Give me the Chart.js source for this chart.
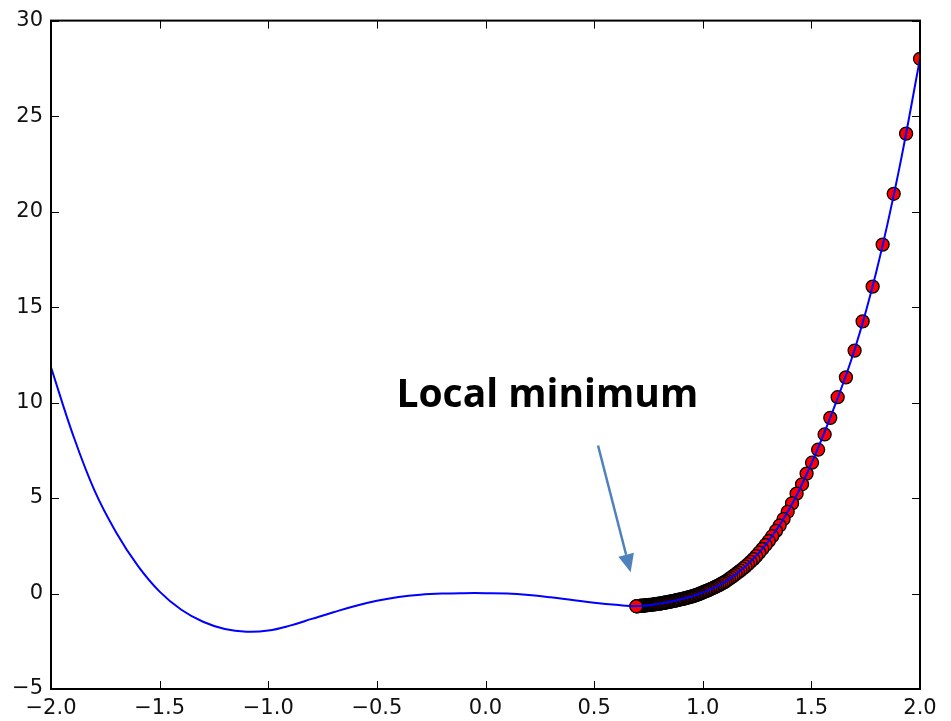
<!DOCTYPE html>
<html>
<head>
<meta charset="utf-8">
<script src="https://cdn.jsdelivr.net/npm/chart.js@4.4.1/dist/chart.umd.min.js"></script>
<style>
  html, body { margin: 0; padding: 0; background: #fff; }
  #wrap { width: 951px; height: 721px; position: relative; }
</style>
</head>
<body>
<div id="wrap"><canvas id="chart"></canvas></div>
<script>
// the function curve
var curveX = [-2.0, -1.9, -1.8, -1.7, -1.6, -1.5, -1.4, -1.3, -1.2, -1.1, -1.0, -0.9, -0.8, -0.7, -0.6, -0.5, -0.4, -0.3, -0.2, -0.1,
              0.0, 0.1, 0.2, 0.3, 0.4, 0.5, 0.6, 0.7, 0.8, 0.9, 1.0, 1.1, 1.2, 1.3, 1.4, 1.5, 1.6, 1.7, 1.8, 1.9, 2.0];
var curveY = [11.85, 8.35, 5.4, 3.2, 1.45, 0.1, -0.85, -1.48, -1.86, -2.0, -1.94, -1.68, -1.33, -0.98, -0.65, -0.38, -0.18, -0.06, 0.0, 0.02,
              0.02, 0.0, -0.08, -0.2, -0.34, -0.48, -0.59, -0.66, -0.53, -0.3, 0.05, 0.6, 1.45, 2.7, 4.45, 6.8, 9.6, 12.8, 16.9, 22.0, 28.0];

// gradient descent steps (red dots), starting at x = 2
var stepX = [2.0, 1.936, 1.879, 1.828, 1.782, 1.736, 1.699, 1.659, 1.621, 1.587, 1.561, 1.531, 1.503, 1.478, 1.457, 1.432,
             1.411, 1.391, 1.372, 1.354, 1.337, 1.320, 1.304, 1.289, 1.274, 1.260, 1.246, 1.233, 1.220, 1.208, 1.196, 1.184,
             1.173, 1.162, 1.151, 1.141, 1.131, 1.121, 1.111, 1.102, 1.093, 1.084, 1.075, 1.066, 1.058, 1.050, 1.042, 1.034,
             1.026, 1.018, 1.011, 1.003, 0.996, 0.989, 0.982, 0.975, 0.968, 0.961, 0.954, 0.948, 0.941, 0.935, 0.928, 0.922,
             0.915, 0.909, 0.903, 0.896, 0.890, 0.884, 0.878, 0.872, 0.866, 0.860, 0.854, 0.848, 0.842, 0.836, 0.830, 0.824,
             0.818, 0.812, 0.806, 0.800, 0.794, 0.788, 0.782, 0.776, 0.770, 0.764, 0.759, 0.753, 0.748, 0.743, 0.738, 0.733,
             0.728, 0.724, 0.720, 0.716, 0.712, 0.709, 0.706, 0.703, 0.700, 0.698, 0.696, 0.694];
var stepY = [28.0, 24.08, 20.93, 18.27, 16.07, 14.25, 12.72, 11.32, 10.28, 9.20, 8.33, 7.53, 6.85, 6.28, 5.72, 5.23,
             4.72, 4.28, 3.90, 3.56, 3.28, 3.00, 2.75, 2.54, 2.33, 2.14, 1.96, 1.80, 1.66, 1.53, 1.41, 1.30,
             1.20, 1.10, 1.01, 0.92, 0.84, 0.76, 0.68, 0.61, 0.55, 0.50, 0.44, 0.39, 0.35, 0.30, 0.26, 0.22,
             0.18, 0.14, 0.11, 0.07, 0.03, 0.00, -0.03, -0.06, -0.09, -0.11, -0.14, -0.16, -0.18, -0.20, -0.22, -0.24,
             -0.26, -0.28, -0.29, -0.31, -0.33, -0.34, -0.36, -0.37, -0.39, -0.40, -0.42, -0.43, -0.44, -0.46, -0.47, -0.48,
             -0.49, -0.51, -0.52, -0.53, -0.54, -0.55, -0.56, -0.57, -0.58, -0.59, -0.59, -0.60, -0.61, -0.61, -0.62, -0.63,
             -0.63, -0.64, -0.64, -0.65, -0.65, -0.65, -0.66, -0.66, -0.66, -0.66, -0.67, -0.67];

var xTicks = [-2.0, -1.5, -1.0, -0.5, 0.0, 0.5, 1.0, 1.5, 2.0];
var yTicks = [-5, 0, 5, 10, 15, 20, 25, 30];

var noteText = "Local minimum";
var notePos = [-0.41, 9.75];          // left / baseline of the text, data units
var arrowFrom = [0.518, 7.75];
var arrowTo = [0.668, 1.12];

function minus(s) { return String(s).replace("-", "\u2212"); }

var curveData = [];
for (var i = 0; i < curveX.length; i++) curveData.push({x: curveX[i], y: curveY[i]});
var stepData = [];
for (var j = 0; j < stepX.length; j++) stepData.push({x: stepX[j], y: stepY[j]});

// frame, inward ticks, text and arrow like the old matplotlib look
var framePlugin = {
    id: "frame",
    afterDatasetsDraw: function(chart) {
        var c = chart.ctx, a = chart.chartArea;
        var xs = chart.scales.x, ys = chart.scales.y;
        c.save();
        c.strokeStyle = "#000";
        c.lineWidth = 1;
        xTicks.forEach(function(v) {
            var px = Math.round(xs.getPixelForValue(v)) + 0.5;
            c.beginPath();
            c.moveTo(px, a.bottom); c.lineTo(px, a.bottom - 8);
            c.moveTo(px, a.top); c.lineTo(px, a.top + 8);
            c.stroke();
        });
        yTicks.forEach(function(v) {
            var py = Math.round(ys.getPixelForValue(v)) + 0.5;
            c.beginPath();
            c.moveTo(a.left, py); c.lineTo(a.left + 8, py);
            c.moveTo(a.right, py); c.lineTo(a.right - 8, py);
            c.stroke();
        });
        c.lineWidth = 2;
        c.strokeRect(a.left, a.top, a.right - a.left, a.bottom - a.top);

        // annotation
        c.fillStyle = "#000";
        c.font = "bold 39px 'Open Sans'";
        c.textBaseline = "alphabetic";
        c.textAlign = "left";
        c.fillText(noteText, xs.getPixelForValue(notePos[0]), ys.getPixelForValue(notePos[1]));

        var x1 = xs.getPixelForValue(arrowFrom[0]), y1 = ys.getPixelForValue(arrowFrom[1]);
        var x2 = xs.getPixelForValue(arrowTo[0]), y2 = ys.getPixelForValue(arrowTo[1]);
        var ang = Math.atan2(y2 - y1, x2 - x1);
        var headLen = 18, headW = 8;
        var bx = x2 - headLen * Math.cos(ang), by = y2 - headLen * Math.sin(ang);
        c.strokeStyle = "#4f81bd";
        c.fillStyle = "#4f81bd";
        c.lineWidth = 2.5;
        c.beginPath();
        c.moveTo(x1, y1); c.lineTo(bx, by);
        c.stroke();
        c.beginPath();
        c.moveTo(x2, y2);
        c.lineTo(bx + headW * Math.sin(ang), by - headW * Math.cos(ang));
        c.lineTo(bx - headW * Math.sin(ang), by + headW * Math.cos(ang));
        c.closePath();
        c.fill();
        c.restore();
    }
};

var ctx = document.getElementById("chart");
var myChart = new Chart(ctx, {
    type: "scatter",
    data: {
        datasets: [{
            label: "f(x)",
            data: curveData,
            showLine: true,
            borderColor: "#0000ff",
            borderWidth: 2,
            pointRadius: 0,
            tension: 0.4,
            clip: 0,
            order: 0
        }, {
            label: "steps",
            data: stepData,
            showLine: false,
            pointRadius: 6.5,
            pointBackgroundColor: "#ff0000",
            pointBorderColor: "#000000",
            pointBorderWidth: 1.3,
            clip: 0,
            order: 1
        }]
    },
    options: {
        responsive: true,
        maintainAspectRatio: false,
        animation: false,
        events: [],
        layout: { padding: { top: 19, right: 31, left: 0, bottom: 0 } },
        plugins: { legend: { display: false }, tooltip: { enabled: false } },
        scales: {
            x: {
                type: "linear",
                min: -2, max: 2,
                afterBuildTicks: function(s) { s.ticks = xTicks.map(function(v) { return {value: v}; }); },
                afterFit: function(s) { s.height = 32; },
                grid: { display: false, drawTicks: false },
                border: { display: false },
                ticks: {
                    padding: 7,
                    color: "#111",
                    font: { family: "DejaVu Sans", size: 21 },
                    maxRotation: 0,
                    callback: function(v) { return minus(v.toFixed(1)); }
                }
            },
            y: {
                min: -5, max: 30,
                afterBuildTicks: function(s) { s.ticks = yTicks.map(function(v) { return {value: v}; }); },
                afterFit: function(s) { s.width = 51; },
                grid: { display: false, drawTicks: false },
                border: { display: false },
                ticks: {
                    padding: 8,
                    color: "#111",
                    font: { family: "DejaVu Sans", size: 21 },
                    callback: function(v) { return minus(v); }
                }
            }
        }
    },
    plugins: [framePlugin]
});
</script>
</body>
</html>
